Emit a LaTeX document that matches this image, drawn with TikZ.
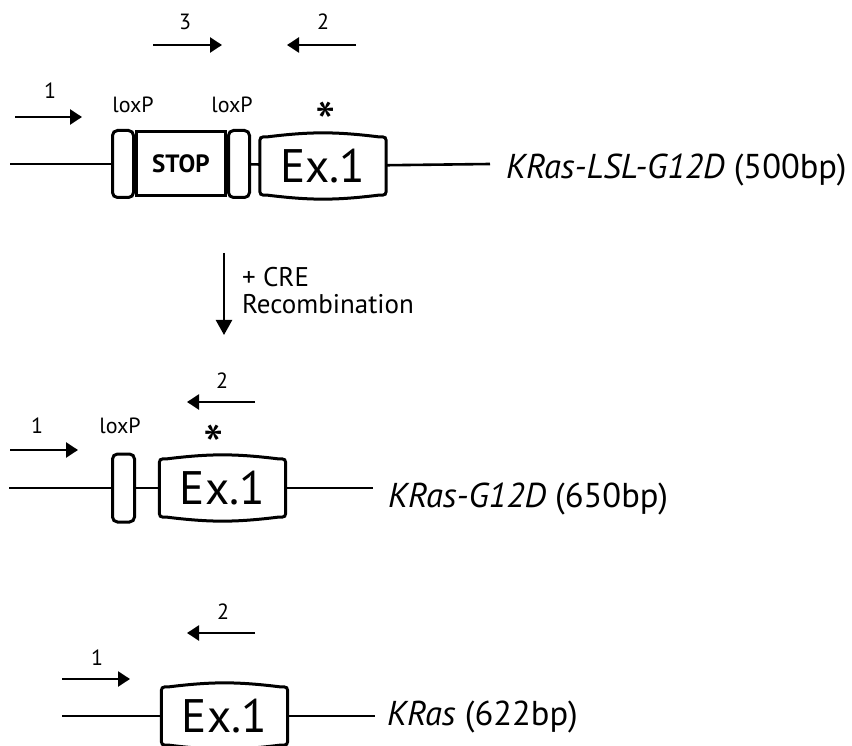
\documentclass[tikz,border=0pt]{standalone}
\usepackage{fontspec}
\setmainfont{PT Sans}
\usetikzlibrary{arrows.meta,positioning}

% exon outline with bulging top and bottom
\newcommand{\exonframe}[1]{%
  \draw[frame] ([yshift=-8pt]#1.north west) -- ([yshift=8pt]#1.south west)
    .. controls (#1.south west) .. ([xshift=8pt]#1.south west)
    to[bend right=7] ([xshift=-8pt]#1.south east)
    .. controls (#1.south east) .. ([yshift=8pt]#1.south east)
    -- ([yshift=-8pt]#1.north east)
    .. controls (#1.north east) .. ([xshift=-8pt]#1.north east)
    to[bend right=7] ([xshift=8pt]#1.north west)
    .. controls (#1.north west) .. cycle;}
% asterisk glyph boxed to its own ink
\newcommand{\mutmark}{\raisebox{0pt}[0.96em][-0.62em]{*}}

\begin{document}
\begin{tikzpicture}[x=1pt, y=-1pt,
    dna/.style={line width=2.6pt},
    frame/.style={line width=3pt},
    primer/.style={line width=2.4pt, -{Triangle[length=12pt, width=15pt]}},
    loxp/.style={draw, line width=3pt, rounded corners=5pt, minimum width=21pt, minimum height=67pt, inner sep=0pt},
    stopbox/.style={draw, line width=3pt, minimum width=89pt, minimum height=64pt, inner sep=0pt, font=\fontsize{25}{30}\selectfont\bfseries},
    exon/.style={minimum width=126pt, minimum height=58pt, inner sep=0pt, font=\fontsize{47}{56}\selectfont},
    tag/.style={font=\fontsize{22}{26}\selectfont, inner sep=0pt},
    star/.style={font=\fontsize{58}{62}\selectfont, inner sep=0pt},
    allele/.style={anchor=base west, inner sep=0pt, font=\fontsize{34.5}{42}\selectfont}
]
\useasboundingbox (0,0) rectangle (852,746);

% KRas-LSL-G12D
\coordinate (r1start) at (10,164);
\coordinate (r1end) at (490,164);
\node[loxp] (lox1) at (123,164) {};
\node[stopbox, right=0pt of lox1] (stop) {STOP};
\node[loxp, right=0pt of stop] (lox2) {};
\node[exon] (ex1) at (323,166) {Ex.1};
\exonframe{ex1}
\draw[dna] (r1start) -- (lox1);
\draw[dna] (lox2) -- (ex1);
\draw[dna] (ex1) -- (r1end);
\node[allele] (lab1) at (506,179) {\textit{KRas-LSL-G12D} (500bp)};

\coordinate (p1a) at (15,117);
\coordinate (p1b) at (82,117);
\draw[primer] (p1a) -- (p1b);
\node[tag] (n1) at (50,91) {1};
\coordinate (p3a) at (153,45);
\coordinate (p3b) at (222,45);
\draw[primer] (p3a) -- (p3b);
\node[tag] (n3) at (185,22) {3};
\coordinate (p2a) at (356,45);
\coordinate (p2b) at (287,45);
\draw[primer] (p2a) -- (p2b);
\node[tag] (n2) at (323,22) {2};
\node[tag] (loxlab1) at (133,105) {loxP};
\node[tag] (loxlab2) at (232,105) {loxP};
\node[star] (mut1) at (326,116) {\mutmark};

% CRE step
\coordinate (cre1) at (224,253);
\coordinate (cre2) at (224,335);
\draw[line width=2.4pt, -{Triangle[length=15pt, width=16pt]}] (cre1) -- (cre2);
\node[anchor=base west, font=\fontsize{27}{32}\selectfont, inner sep=0pt] (cre) at (242,287) {+ CRE};
\node[anchor=base west, font=\fontsize{27}{32}\selectfont, inner sep=0pt] (recomb) at (242,313) {Recombination};

% KRas-G12D
\coordinate (r2start) at (9,488);
\coordinate (r2end) at (373,488);
\node[loxp, minimum height=68pt, minimum width=22pt] (lox3) at (123.5,488) {};
\node[exon] (ex2) at (222.5,488) {Ex.1};
\exonframe{ex2}
\draw[dna] (r2start) -- (lox3);
\draw[dna] (lox3) -- (ex2);
\draw[dna] (ex2) -- (r2end);
\node[allele] (lab2) at (388,507) {\textit{KRas-G12D} (650bp)};

\coordinate (q1a) at (10,450);
\coordinate (q1b) at (78,450);
\draw[primer] (q1a) -- (q1b);
\node[tag] (m1) at (37,426) {1};
\node[tag] (loxlab3) at (120,426) {loxP};
\node[star] (mut2) at (214,439) {\mutmark};
\coordinate (q2a) at (255,402);
\coordinate (q2b) at (187,402);
\draw[primer] (q2a) -- (q2b);
\node[tag] (m2) at (222,381) {2};

% KRas wild type
\coordinate (r3start) at (62,716);
\coordinate (r3end) at (375,716);
\node[exon] (ex3) at (224.5,716) {Ex.1};
\exonframe{ex3}
\draw[dna] (r3start) -- (ex3);
\draw[dna] (ex3) -- (r3end);
\node[allele] (lab3) at (387,725) {\textit{KRas} (622bp)};

\coordinate (w1a) at (62,679);
\coordinate (w1b) at (130,679);
\draw[primer] (w1a) -- (w1b);
\node[tag] (k1) at (97,658) {1};
\coordinate (w2a) at (255,633);
\coordinate (w2b) at (187,633);
\draw[primer] (w2a) -- (w2b);
\node[tag] (k2) at (223,612) {2};
\end{tikzpicture}
\end{document}
